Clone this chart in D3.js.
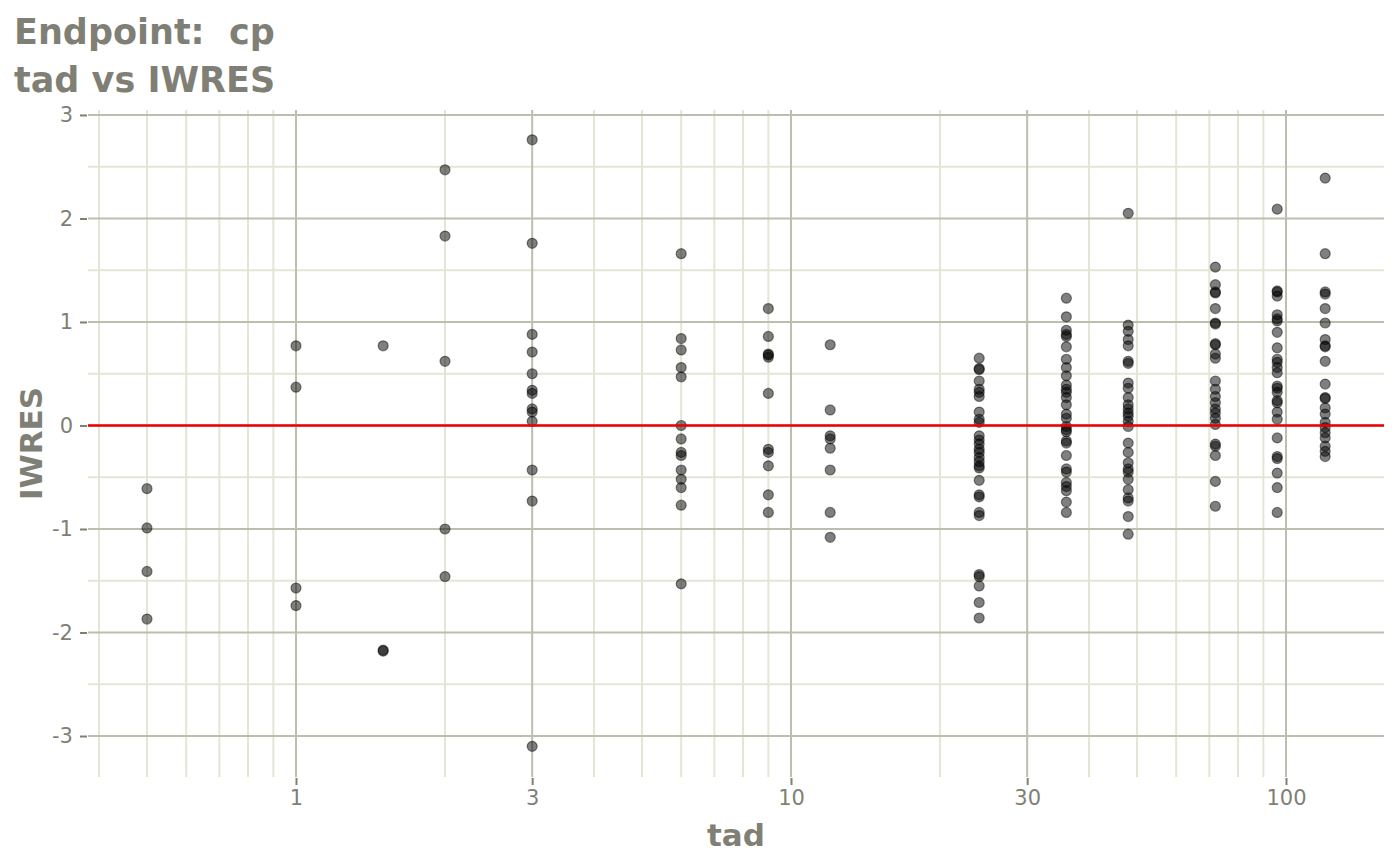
<!DOCTYPE html>
<html>
<head>
<meta charset="utf-8">
<script src="https://cdn.jsdelivr.net/npm/d3@7"></script>
<style>
  body { margin: 0; background: #fff; }
  text { font-family: "DejaVu Sans", sans-serif; }
</style>
</head>
<body>
<div id="chart"></div>
<script>
// time after dose levels (x) and the IWRES values observed at each one
var tadLevels = [0.5, 1, 1.5, 2, 3, 6, 9, 12, 24, 36, 48, 72, 96, 120]
var iwresByTad = [
  [-0.61, -0.99, -1.41, -1.87],
  [0.77, 0.37, -1.57, -1.74],
  [0.77, -2.17, -2.18],
  [2.47, 1.83, 0.62, -1.00, -1.46],
  [2.76, 1.76, 0.88, 0.71, 0.50, 0.34, 0.31, 0.16, 0.13, 0.04, -0.43, -0.73, -3.10],
  [1.66, 0.84, 0.73, 0.56, 0.47, 0.00, -0.13, -0.26, -0.29, -0.43, -0.52, -0.60, -0.77, -1.53],
  [1.13, 0.86, 0.69, 0.68, 0.66, 0.31, -0.23, -0.26, -0.39, -0.67, -0.84],
  [0.78, 0.15, -0.10, -0.13, -0.22, -0.43, -0.84, -1.08],
  [0.65, 0.55, 0.54, 0.43, 0.35, 0.32, 0.28, 0.13, 0.06, 0.03, -0.10, -0.14, -0.18, -0.23, -0.26,
   -0.31, -0.35, -0.39, -0.41, -0.53, -0.67, -0.69, -0.84, -0.87, -1.44, -1.46, -1.55, -1.71, -1.86],
  [1.23, 1.05, 0.92, 0.88, 0.86, 0.76, 0.64, 0.56, 0.48, 0.39, 0.35, 0.32, 0.27, 0.20, 0.11, 0.07,
   -0.01, -0.04, -0.06, -0.15, -0.17, -0.29, -0.42, -0.45, -0.55, -0.59, -0.63, -0.74, -0.84],
  [2.05, 0.97, 0.91, 0.83, 0.77, 0.62, 0.60, 0.41, 0.36, 0.27, 0.20, 0.16, 0.12, 0.09, 0.04, -0.01,
   -0.17, -0.26, -0.36, -0.42, -0.45, -0.52, -0.62, -0.70, -0.73, -0.88, -1.05],
  [1.53, 1.36, 1.29, 1.28, 1.13, 0.99, 0.98, 0.79, 0.78, 0.69, 0.65, 0.43, 0.35, 0.28, 0.22, 0.16,
   0.12, 0.07, 0.01, -0.18, -0.20, -0.29, -0.54, -0.78],
  [2.09, 1.30, 1.29, 1.25, 1.07, 1.03, 1.01, 0.90, 0.75, 0.64, 0.61, 0.56, 0.51, 0.38, 0.36, 0.32,
   0.24, 0.22, 0.13, 0.06, -0.12, -0.30, -0.32, -0.46, -0.60, -0.84],
  [2.39, 1.66, 1.29, 1.27, 1.13, 0.99, 0.83, 0.77, 0.76, 0.62, 0.40, 0.27, 0.26, 0.17, 0.11, 0.03,
   -0.02, -0.07, -0.12, -0.20, -0.25, -0.30]
]
var xMajor = [1, 3, 10, 30, 100]
var xMinor = [0.4, 0.5, 0.6, 0.7, 0.8, 0.9, 2, 4, 5, 6, 7, 8, 9, 20, 40, 50, 60, 70, 80, 90]
var yMajor = [-3, -2, -1, 0, 1, 2, 3]
var yMinor = [-2.5, -1.5, -0.5, 0.5, 1.5, 2.5]
var titleLines = ["Endpoint:  cp", "tad vs IWRES"]

var W = 1400, H = 865
var panel = {left: 88, right: 1384, top: 110, bottom: 777}
var textCol = "#7f7f76", majorCol = "#bdbdb0", minorCol = "#e5e5d6"

var points = []
tadLevels.forEach(function(t, i){
  iwresByTad[i].forEach(function(v){ points.push({tad: t, iwres: v}) })
})

var svg = d3.select("#chart").append("svg")
  .attr("width", W).attr("height", H)

var x = d3.scaleLog()
  .domain([Math.pow(10, -0.4202), Math.pow(10, 2.198)])
  .range([panel.left, panel.right])
var y = d3.scaleLinear()
  .domain([-3.396, 3.048])
  .range([panel.bottom, panel.top])

// grid: minor first, then major
svg.append("g").selectAll("line").data(yMinor).join("line")
  .attr("x1", panel.left).attr("x2", panel.right)
  .attr("y1", function(d){ return y(d) }).attr("y2", function(d){ return y(d) })
  .attr("stroke", minorCol).attr("stroke-width", 2)
svg.append("g").selectAll("line").data(xMinor).join("line")
  .attr("x1", function(d){ return x(d) }).attr("x2", function(d){ return x(d) })
  .attr("y1", panel.top).attr("y2", panel.bottom)
  .attr("stroke", minorCol).attr("stroke-width", 2)
svg.append("g").selectAll("line").data(yMajor).join("line")
  .attr("x1", panel.left).attr("x2", panel.right)
  .attr("y1", function(d){ return y(d) }).attr("y2", function(d){ return y(d) })
  .attr("stroke", majorCol).attr("stroke-width", 2)
svg.append("g").selectAll("line").data(xMajor).join("line")
  .attr("x1", function(d){ return x(d) }).attr("x2", function(d){ return x(d) })
  .attr("y1", panel.top).attr("y2", panel.bottom)
  .attr("stroke", majorCol).attr("stroke-width", 2)

// axes
var xAxis = svg.append("g")
  .attr("transform", "translate(0," + (panel.bottom + 1) + ")")
  .call(d3.axisBottom(x).tickValues(xMajor).tickFormat(d3.format("d")).tickSize(7).tickPadding(5))
var yAxis = svg.append("g")
  .attr("transform", "translate(" + (panel.left - 1) + ",0)")
  .call(d3.axisLeft(y).tickValues(yMajor).tickFormat(function(d){ return d }).tickSize(7).tickPadding(7))
;[xAxis, yAxis].forEach(function(a){
  a.select(".domain").remove()
  a.selectAll(".tick line").attr("stroke", textCol).attr("stroke-width", 2)
  a.selectAll(".tick text").attr("fill", textCol)
    .style("font-family", "DejaVu Sans").style("font-size", "21px")
})

// points
svg.append("g").selectAll("circle").data(points).join("circle")
  .attr("cx", function(d){ return x(d.tad) })
  .attr("cy", function(d){ return y(d.iwres) })
  .attr("r", 5)
  .attr("fill", "#000").attr("fill-opacity", 0.5)
  .attr("stroke", "#000").attr("stroke-opacity", 0.45).attr("stroke-width", 1.2)

// reference line at zero
svg.append("line")
  .attr("x1", panel.left).attr("x2", panel.right)
  .attr("y1", y(0)).attr("y2", y(0))
  .attr("stroke", "#ee0000").attr("stroke-width", 2.4)

// titles
svg.append("g").selectAll("text").data(titleLines).join("text")
  .attr("x", 14).attr("y", function(d, i){ return 44 + i * 48 })
  .attr("fill", textCol).style("font-size", "35px").style("font-weight", "bold")
  .style("white-space", "pre")
  .text(function(d){ return d })

svg.append("text")
  .attr("x", (panel.left + panel.right) / 2).attr("y", 846)
  .attr("text-anchor", "middle")
  .attr("fill", textCol).style("font-size", "31px").style("font-weight", "bold")
  .text("tad")

svg.append("text")
  .attr("transform", "translate(42," + (panel.top + panel.bottom) / 2 + ") rotate(-90)")
  .attr("text-anchor", "middle")
  .attr("fill", textCol).style("font-size", "31px").style("font-weight", "bold")
  .text("IWRES")
</script>
</body>
</html>
